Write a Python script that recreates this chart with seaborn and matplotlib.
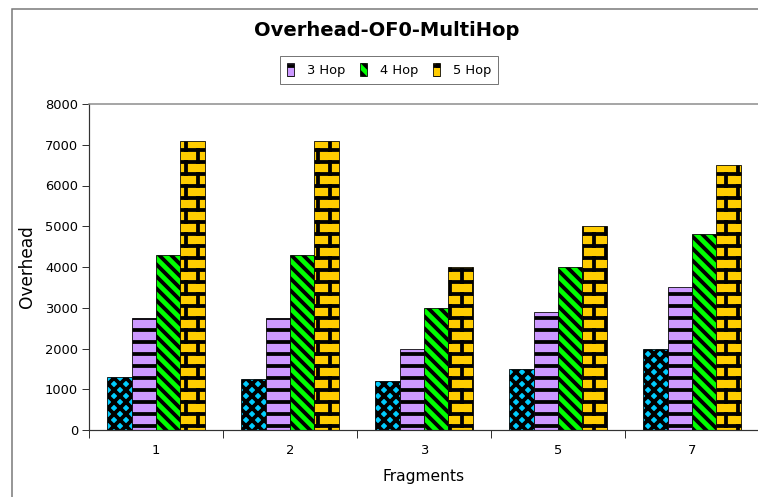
import warnings
import numpy as np
import pandas as pd
import matplotlib
matplotlib.use("Agg")
import matplotlib.pyplot as plt
import matplotlib.patches as mpatches
from matplotlib import hatch as mhatch
from matplotlib.path import Path
import seaborn as sns

warnings.filterwarnings("ignore")

# ---- data -------------------------------------------------------------
fragments = ["1", "2", "3", "5", "7"]
series = ["2 Hop", "3 Hop", "4 Hop", "5 Hop"]
hop2 = [1300, 1250, 1200, 1500, 2000]
hop3 = [2750, 2750, 2000, 2900, 3500]
hop4 = [4300, 4300, 3000, 4000, 4800]
hop5 = [7100, 7100, 4000, 5000, 6500]
y_ticks = [0, 1000, 2000, 3000, 4000, 5000, 6000, 7000, 8000]

colors = ["#00CCFF", "#CC99FF", "#00FF00", "#FFCC00"]
hatches = ["xx", "-", "\\\\", "b"]


# ---- a brick hatch pattern ("b") --------------------------------------
class BrickHatch(mhatch.HatchPatternBase):
    def __init__(self, hatch, density):
        n = hatch.count("b")
        self.rows = int(n * density)
        self.cols = 3 * n
        # horizontal mortar lines + vertical joints (one wrap row split in two)
        self.num_vertices = (self.rows * 2 + (self.rows + 1) * self.cols * 2) if n else 0

    def set_vertices_and_codes(self, vertices, codes):
        rows, cols = self.rows, self.cols
        step = 1.0 / rows
        ys = np.arange(rows) * step + step / 2
        i = 0
        for y in ys:
            vertices[i] = (0.0, y)
            vertices[i + 1] = (1.0, y)
            codes[i] = Path.MOVETO
            codes[i + 1] = Path.LINETO
            i += 2
        # rows between consecutive mortar lines
        spans = [(ys[j], ys[j + 1], j) for j in range(rows - 1)]
        spans.append((ys[-1], 1.0, rows - 1))
        spans.append((0.0, ys[0], rows - 1))
        for y0, y1, r in spans:
            off = 0.25 if r % 2 == 0 else 0.75
            for k in range(cols):
                x = (k + off) / cols
                vertices[i] = (x, y0)
                vertices[i + 1] = (x, y1)
                codes[i] = Path.MOVETO
                codes[i + 1] = Path.LINETO
                i += 2


mhatch._hatch_types.append(BrickHatch)

# ---- long-form table ---------------------------------------------------
values = [hop2, hop3, hop4, hop5]
df = pd.DataFrame({
    "Fragments": np.repeat([fragments], len(series), axis=0).ravel(),
    "Series": np.repeat(series, len(fragments)),
    "Overhead": np.concatenate(values),
})

# ---- figure -------------------------------------------------------------
sns.set_style("white")
plt.rcParams["font.family"] = ["DejaVu Sans"]
plt.rcParams["hatch.linewidth"] = 3.8
plt.rcParams["hatch.color"] = "black"
for key in ["text.color", "axes.labelcolor", "xtick.labelcolor", "ytick.labelcolor"]:
    plt.rcParams[key] = "black"

DPI = 72
fig = plt.figure(figsize=(758 / DPI, 497 / DPI), dpi=DPI)
ax = fig.add_axes([89 / 758, 1 - 430 / 497, (759 - 89) / 758, (430 - 104) / 497])

sns.barplot(data=df, x="Fragments", y="Overhead", hue="Series",
            order=fragments, hue_order=series, palette=colors,
            width=0.73, saturation=1.0, ax=ax, legend=False,
            edgecolor="black", linewidth=0.8)

for cont, h in zip(ax.containers, hatches):
    for bar in cont:
        bar.set_hatch(h)
        bar.set_edgecolor("black")

ax.set_ylim(0, 8000)
ax.set_yticks(y_ticks)
ax.set_xlim(-0.5, len(fragments) - 0.5)
ax.set_xticks(np.arange(-0.5, len(fragments)), [""] * (len(fragments) + 1))
ax.set_xticks(np.arange(len(fragments)), fragments, minor=True)
ax.tick_params(axis="x", which="major", direction="out", length=8, width=1,
               color="#333333", bottom=True)
ax.tick_params(axis="x", which="minor", length=0, pad=14, labelsize=13,
               labelcolor="black")
ax.tick_params(axis="y", direction="out", length=7, width=1, color="#333333",
               left=True, labelsize=13, pad=4, labelcolor="black")

for side in ["left", "bottom"]:
    ax.spines[side].set_color("#333333")
    ax.spines[side].set_linewidth(1.2)
ax.spines["top"].set_color("#8a8a8a")
ax.spines["top"].set_linewidth(1.5)
ax.spines["right"].set_visible(False)

ax.set_xlabel("Fragments", fontsize=15.5, labelpad=12, color="black")
ax.set_ylabel("Overhead", fontsize=17, labelpad=9, color="black")

fig.text(386.5 / 758, 1 - 30 / 497, "Overhead-OF0-MultiHop", ha="center",
         va="center", fontsize=19.5, fontweight="bold", color="black")

handles = [mpatches.Patch(facecolor=c, edgecolor="black", hatch=h, linewidth=0.8)
           for c, h in zip(colors[1:], hatches[1:])]
leg = fig.legend(handles, series[1:], loc="center", ncol=3,
                 bbox_to_anchor=(389 / 758, 1 - 70 / 497), fontsize=13,
                 frameon=True, fancybox=False, handlelength=0.55,
                 handleheight=1.2, handletextpad=1.0, columnspacing=1.1,
                 borderpad=0.55, edgecolor="#555555")
leg.get_frame().set_linewidth(1.0)
for t in leg.get_texts():
    t.set_color("black")

# outer frame around the whole chart
frame = mpatches.Rectangle((12 / 758, -0.1), 1.2, 1 - 9 / 497 + 0.1,
                           transform=fig.transFigure, fill=False,
                           edgecolor="#777777", linewidth=1.5, clip_on=False)
fig.patches.append(frame)

fig.savefig("out.png", dpi=DPI)
